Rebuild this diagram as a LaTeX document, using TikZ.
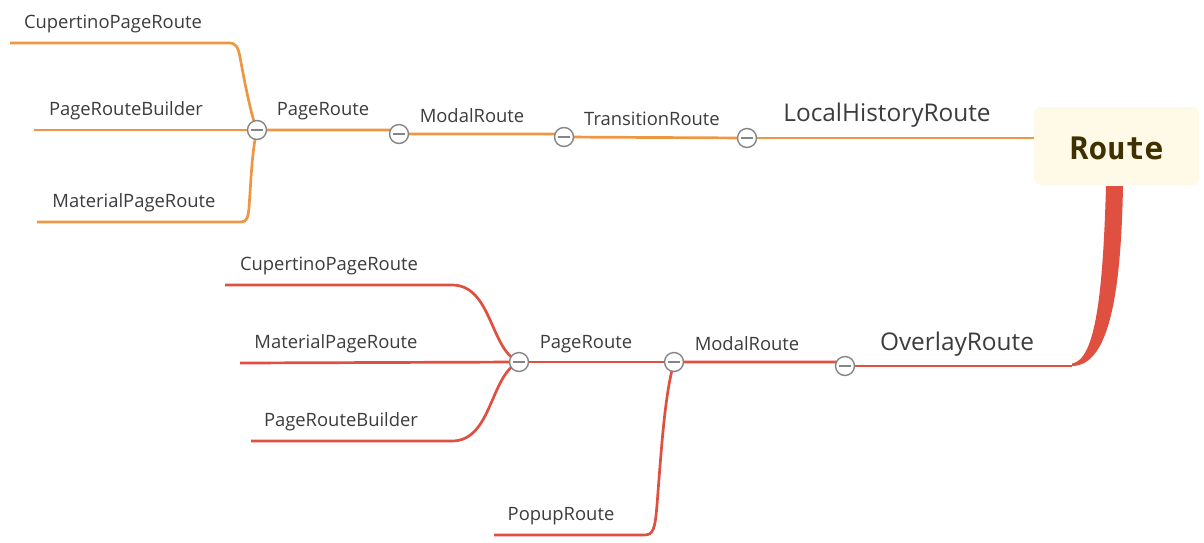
\documentclass[tikz,border=0pt]{standalone}
\usepackage{fontspec}
\setmainfont{Open Sans}
\newfontfamily\routefont{DejaVu Sans Mono}
\definecolor{ora}{HTML}{EE9644}
\definecolor{redc}{HTML}{E05040}
\definecolor{txt}{HTML}{3C3C3C}
\definecolor{circ}{HTML}{858585}
\definecolor{boxfill}{HTML}{FFFAE8}
\definecolor{rtxt}{HTML}{3F3000}
\tikzset{
  lbl/.style={text=txt, font=\fontsize{18.4}{20}\selectfont, inner sep=0pt},
  biglbl/.style={text=txt, font=\fontsize{24.4}{26}\selectfont, inner sep=0pt},
  knob/.style={circle, draw=circ, fill=white, line width=1.4pt, minimum size=19pt, inner sep=0pt,
    path picture={\draw[circ, line width=1.4pt] ([xshift=-6pt]path picture bounding box.center) -- ([xshift=6pt]path picture bounding box.center);}},
  oline/.style={ora, line width=2.7pt},
  rline/.style={redc, line width=2.7pt},
}
\begin{document}
\begin{tikzpicture}[x=1pt,y=-1pt]
\useasboundingbox (0,0) rectangle (1204,542);
% root
\node[fill=boxfill, rounded corners=6pt, minimum width=165pt, minimum height=78pt, inner sep=0pt] (route) at (1116.5,146) {};
\node[text=rtxt, font=\routefont\bfseries\fontsize{31}{34}\selectfont] (routetxt) at (1116.5,148) {Route};
% coordinates
\coordinate (rootL) at (1034,138);
\coordinate (rootB1) at (1106,186);
\coordinate (rootB2) at (1123,186);
\coordinate (ovEnd) at (1072,366);
% orange knobs
\coordinate (k1) at (257,130);
\coordinate (k2) at (399,134);
\coordinate (k3) at (564,137);
\coordinate (k4) at (747,138);
% red knobs
\coordinate (r1) at (519,362);
\coordinate (r2) at (674,362);
\coordinate (r3) at (845,366);
% orange connectors
\draw[oline] (rootL) -- (k4);
\draw[oline] (k4) -- (k3);
\draw[oline] (k3) -- ([xshift=-4pt]k3|-k2) -- (k2);
\draw[oline] (k2) -- ([xshift=-4pt]k2|-k1) -- (k1);
\coordinate (oc1) at (10,43);
\coordinate (ob1) at (34,130);
\coordinate (om1) at (37,222);
\draw[oline] (oc1) -- (229,43) .. controls (236,43) and (238,47) .. (240,57) .. controls (246,90) and (252,118) .. (k1);
\draw[oline] (ob1) -- (k1);
\draw[oline] (om1) -- (241,222) .. controls (247,222) and (248,217) .. (249,208) .. controls (251,180) and (252,150) .. (k1);
% red connectors
\fill[redc] (rootB1) -- (rootB2) .. controls (1121,290) and (1110,366) .. (ovEnd) -- (1072,363.5) .. controls (1096,360) and (1103,290) .. (rootB1) -- cycle;
\draw[rline] (ovEnd) -- (r3);
\draw[rline] (r3) -- ([xshift=-5pt]r3|-r2) -- (r2);
\draw[rline] (r2) -- (r1);
\coordinate (rc1) at (225,285);
\coordinate (rm1) at (240,363);
\coordinate (rb1) at (251,441);
\coordinate (rp1) at (494,535);
\draw[rline] (rc1) -- (452,285) .. controls (492,285) and (490,350) .. (r1);
\draw[rline] (rm1) -- (r1);
\draw[rline] (rb1) -- (452,441) .. controls (492,441) and (490,375) .. (r1);
\draw[rline] (r2) .. controls (665,395) and (662,440) .. (657,505) .. controls (655,530) and (653,535) .. (644,535) -- (rp1);
% knobs
\foreach \k in {k1,k2,k3,k4,r1,r2,r3} { \node[knob] (n\k) at (\k) {}; }
% labels orange
\node[lbl] (t1) at (113,24) {CupertinoPageRoute};
\node[lbl] (t2) at (126,111) {PageRouteBuilder};
\node[lbl] (t3) at (134,203) {MaterialPageRoute};
\node[lbl] (t4) at (323,111) {PageRoute};
\node[lbl] (t5) at (472,116) {ModalRoute};
\node[lbl] (t6) at (652,119) {TransitionRoute};
\node[biglbl] (t7) at (887,115) {LocalHistoryRoute};
% labels red
\node[lbl] (u1) at (329,266) {CupertinoPageRoute};
\node[lbl] (u2) at (336,344) {MaterialPageRoute};
\node[lbl] (u3) at (341,422) {PageRouteBuilder};
\node[lbl] (u4) at (586,344) {PageRoute};
\node[lbl] (u5) at (747,344) {ModalRoute};
\node[biglbl] (u6) at (957,344) {OverlayRoute};
\node[lbl] (u7) at (561,516) {PopupRoute};
\end{tikzpicture}
\end{document}
